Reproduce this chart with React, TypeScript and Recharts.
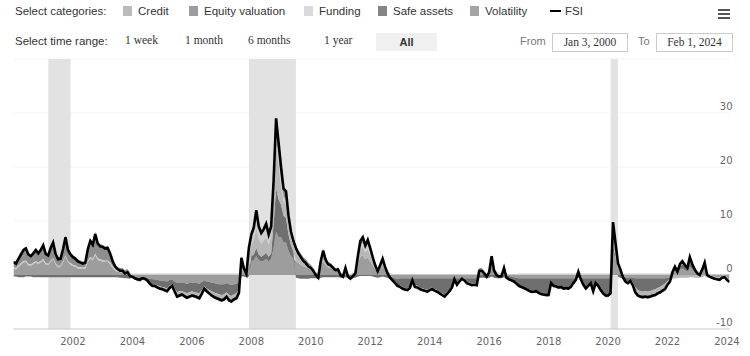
import React from "react";
import {
  ComposedChart,
  Area,
  Line,
  XAxis,
  YAxis,
  CartesianGrid,
  ReferenceArea,
} from "recharts";

// monthly readings, Jan 2000 .. Feb 2024
const fsi = [
  2.4, 2.1, 3.0, 3.8, 4.6, 4.9, 3.8, 3.5, 4.0, 4.6, 4.0, 4.6,
  5.5, 3.9, 3.6, 5.0, 6.0, 3.9, 2.9, 3.0, 4.8, 7.0, 4.6, 3.8,
  3.3, 3.0, 2.5, 2.3, 2.1, 2.3, 4.8, 6.3, 5.6, 7.6, 5.8, 5.3,
  5.2, 4.9, 5.0, 4.0, 2.6, 1.6, 1.1, 0.8, 0.8, 0.3, 0.5, -0.2,
  -0.3, -0.6, -0.8, -0.9, -0.6, -0.7, -1.0, -1.6, -2.0, -2.0, -2.3, -2.5,
  -2.6, -2.8, -3.0, -2.4, -2.0, -3.0, -4.0, -3.8, -3.6, -3.9, -4.2, -4.0,
  -3.8, -3.9, -4.1, -4.3, -3.5, -2.5, -3.0, -3.4, -3.8, -4.1, -4.3, -4.5,
  -4.7, -4.5, -4.0, -4.7, -4.9, -4.5, -4.3, -3.3, 3.2, 1.2, 0.2, 5.0,
  7.5, 8.8, 12.0, 9.0, 7.8, 8.5, 9.5, 7.5, 9.0, 17.5, 29.0, 24.5,
  20.0, 16.0, 15.5, 11.0, 8.0, 6.3, 5.0, 4.0, 3.3, 2.6, 2.2, 1.6,
  1.3, 0.8, 0.0, -0.5, 2.5, 4.5, 2.8, 2.0, 1.8, 1.3, 0.9, 1.0,
  0.0, -0.3, 1.3, -0.3, -0.7, -0.2, 0.3, 3.5, 6.3, 7.0, 5.5, 6.5,
  5.0, 3.3, 1.8, 0.7, 1.8, 3.0, 1.5, 0.3, -0.5, -1.0, -1.5, -2.0,
  -2.2, -2.5, -2.7, -2.8, -2.4, -1.0, -2.2, -2.3, -2.6, -2.8, -2.9, -3.1,
  -2.8, -2.6, -2.9, -3.1, -3.4, -3.7, -4.0, -3.5, -3.0, -2.3, -0.8, -1.8,
  -1.2, -0.7, -1.0, -1.5, -1.7, -1.9, -1.8, -1.9, 0.8, 0.8, 0.3, -0.3,
  0.5, 3.5, 0.8, 0.0, -0.3, -0.2, 1.3, -0.5, -0.8, -1.0, -1.2, -1.6,
  -2.0, -2.2, -2.4, -2.6, -2.9, -3.1, -3.1, -3.0, -3.3, -3.5, -3.6, -3.7,
  -3.7, -1.5, -2.0, -2.1, -2.3, -2.2, -2.5, -2.4, -2.5, -2.2, -1.5, -0.9,
  0.6, -0.8, -1.8, -2.5, -2.0, -1.5, -3.0, -1.5, -2.0, -2.8, -3.4, -3.8,
  -3.8, -3.4, 9.8, 6.0, 2.2, 1.0, -0.4, -1.2, -1.5, -1.1, -1.9, -3.2,
  -3.8, -4.0, -4.1, -4.0, -4.1, -4.0, -3.8, -3.7, -3.4, -3.2, -2.9, -2.6,
  -1.8, -1.2, 0.5, 1.5, 0.6, 2.0, 2.5, 1.8, 1.3, 3.3, 2.0, 1.0,
  0.3, 0.0, 1.0, 2.3, 0.0, -0.3, -0.5, -0.7, -0.8, -0.9, -0.5, -0.4,
  -0.9, -1.3,
];

const volatility = [
  1.2, 1.0, 1.5, 1.9, 2.3, 2.4, 1.8, 1.7, 2.0, 2.3, 2.0, 2.3,
  2.7, 1.9, 1.8, 2.4, 2.9, 1.9, 1.4, 1.5, 2.4, 3.4, 2.3, 1.9,
  1.6, 1.5, 1.2, 1.2, 1.1, 1.2, 2.4, 3.1, 2.7, 3.7, 2.8, 2.6,
  2.5, 2.4, 2.4, 2.0, 1.3, 0.8, 0.6, 0.5, 0.5, 0.3, 0.4, 0.1,
  -0.2, -0.3, -0.4, -0.4, -0.3, -0.4, -0.5, -0.7, -0.8, -0.8, -0.9, -1.0,
  -1.0, -1.1, -1.2, -0.9, -0.8, -1.2, -1.5, -1.4, -1.4, -1.5, -1.6, -1.5,
  -1.4, -1.5, -1.5, -1.6, -1.3, -1.0, -1.2, -1.3, -1.4, -1.5, -1.6, -1.7,
  -1.7, -1.7, -1.5, -1.7, -1.8, -1.7, -1.6, -1.2, 1.2, 0.4, 0.1, 1.8,
  2.5, 2.8, 3.5, 2.8, 2.5, 2.7, 3.0, 2.5, 3.0, 5.0, 8.0, 7.0,
  7.0, 6.0, 6.0, 4.5, 3.5, 3.0, 2.6, 2.2, 1.9, 1.6, 1.5, 1.2,
  1.0, 0.8, 0.4, 0.2, 1.6, 2.6, 1.8, 1.4, 1.3, 1.0, 0.8, 0.8,
  0.4, 0.2, 1.1, 0.2, 0.0, 0.3, 0.6, 2.2, 3.4, 3.7, 2.9, 3.3,
  2.6, 1.8, 1.1, 0.6, 1.2, 1.7, 1.0, 0.4, -0.2, -0.4, -0.6, -0.7,
  -0.6, -0.6, -0.6, -0.6, -0.6, -0.6, -0.6, -0.6, -0.6, -0.6, -0.6, -0.6,
  -0.6, -0.6, -0.6, -0.6, -0.6, -0.6, -0.6, -0.6, -0.6, -0.6, -0.5, -0.6,
  -0.6, -0.5, -0.6, -0.6, -0.6, -0.6, -0.6, -0.6, 0.6, 0.6, 0.3, 0.0,
  0.5, 2.0, 0.6, 0.2, 0.0, 0.1, 0.9, -0.1, -0.2, -0.3, -0.4, -0.5,
  -0.6, -0.6, -0.6, -0.6, -0.6, -0.6, -0.6, -0.6, -0.6, -0.6, -0.6, -0.6,
  -0.6, -0.6, -0.6, -0.6, -0.6, -0.6, -0.6, -0.6, -0.6, -0.6, -0.6, -0.6,
  0.5, -0.5, -0.6, -0.6, -0.6, -0.6, -0.6, -0.6, -0.6, -0.6, -0.6, -0.6,
  -0.6, -0.6, 4.5, 2.8, 1.2, 0.7, -0.1, -0.4, -0.5, -0.4, -0.5, -0.6,
  -0.6, -0.6, -0.6, -0.6, -0.6, -0.6, -0.6, -0.6, -0.6, -0.6, -0.6, -0.6,
  -0.5, -0.4, 0.4, 0.8, 0.4, 1.0, 1.2, 0.9, 0.7, 1.5, 1.0, 0.6,
  0.3, 0.2, 0.6, 1.0, 0.2, -0.1, -0.2, -0.2, -0.3, -0.3, -0.2, -0.1,
  -0.3, -0.4,
];

const safeAssets = [
  -0.3, -0.3, -0.4, -0.4, -0.4, -0.3, -0.3, -0.3, -0.4, -0.4, -0.4, -0.4,
  -0.4, -0.4, -0.4, -0.4, -0.4, -0.4, -0.4, -0.4, -0.4, -0.4, -0.4, -0.4,
  -0.4, -0.4, -0.4, -0.4, -0.4, -0.4, -0.4, -0.4, -0.4, -0.4, -0.4, -0.4,
  -0.4, -0.4, -0.4, -0.4, -0.4, -0.4, -0.4, -0.5, -0.5, -0.6, -0.6, -0.7,
  -0.2, -0.4, -0.4, -0.5, -0.4, -0.4, -0.5, -0.8, -0.9, -0.9, -1.0, -1.1,
  -1.2, -1.2, -1.3, -1.1, -0.9, -1.3, -1.7, -1.6, -1.6, -1.7, -1.8, -1.7,
  -1.6, -1.7, -1.8, -1.8, -1.5, -1.1, -1.3, -1.5, -1.6, -1.8, -1.8, -1.9,
  -2.0, -1.9, -1.7, -2.0, -2.1, -1.9, -1.8, -1.4, -0.3, -0.3, -0.4, -0.3,
  1.0, 1.0, 1.5, 1.0, 0.9, 1.0, 1.1, 0.9, 1.0, 4.5, 8.0, 7.0,
  6.0, 5.0, 4.5, 3.0, 2.0, 1.3, -0.5, -0.6, -0.7, -0.7, -0.7, -0.7,
  -0.6, -0.6, -0.6, -0.8, -0.5, -0.4, -0.4, -0.4, -0.4, -0.4, -0.4, -0.4,
  -0.5, -0.5, -0.4, -0.5, -0.6, -0.5, -0.5, -0.3, -0.2, -0.2, -0.2, -0.2,
  -0.2, -0.3, -0.4, -0.5, -0.4, -0.3, -0.4, -0.5, -0.6, -0.8, -1.0, -1.3,
  -1.3, -1.6, -1.8, -1.9, -1.5, -0.1, -1.3, -1.4, -1.7, -1.9, -2.0, -2.2,
  -1.9, -1.7, -2.0, -2.2, -2.5, -2.8, -3.1, -2.6, -2.1, -1.4, -0.2, -0.9,
  -0.3, -0.1, -0.1, -0.6, -0.8, -1.0, -0.9, -1.0, -0.5, -0.5, -0.5, -0.6,
  -0.5, -0.3, -0.5, -0.6, -0.6, -0.6, -0.4, -0.6, -0.7, -0.8, -0.8, -1.0,
  -1.2, -1.4, -1.6, -1.8, -2.1, -2.3, -2.3, -2.2, -2.5, -2.7, -2.8, -2.9,
  -2.9, -0.7, -1.2, -1.3, -1.5, -1.4, -1.7, -1.6, -1.7, -1.4, -0.7, -0.1,
  -0.5, -0.3, -1.0, -1.7, -1.2, -0.7, -2.2, -0.7, -1.2, -2.0, -2.6, -3.0,
  -3.0, -2.6, 1.0, 0.5, -0.3, -0.5, -0.6, -0.6, -0.7, -0.5, -0.9, -1.7,
  -2.2, -2.4, -2.5, -2.4, -2.5, -2.4, -2.2, -2.1, -1.8, -1.6, -1.3, -1.0,
  -0.6, -0.3, 0.3, 0.5, 0.3, 0.6, 0.8, 0.6, 0.5, 1.0, 0.6, 0.4,
  0.2, 0.1, 0.3, 0.5, 0.1, 0.0, 0.0, -0.1, -0.1, -0.1, 0.0, 0.0,
  -0.1, -0.2,
];

const funding = [
  0.1, 0.1, 0.1, 0.1, 0.1, 0.1, 0.1, 0.1, 0.1, 0.1, 0.1, 0.1,
  0.1, 0.1, 0.1, 0.1, 0.1, 0.1, 0.1, 0.1, 0.1, 0.1, 0.1, 0.1,
  0.1, 0.1, 0.1, 0.1, 0.1, 0.1, 0.1, 0.1, 0.1, 0.1, 0.1, 0.1,
  0.1, 0.1, 0.1, 0.1, 0.1, 0.1, 0.1, 0.1, 0.1, 0.1, 0.1, 0.1,
  0.3, 0.3, 0.3, 0.3, 0.3, 0.3, 0.3, 0.3, 0.3, 0.3, 0.3, 0.3,
  0.3, 0.3, 0.3, 0.3, 0.3, 0.3, 0.3, 0.3, 0.3, 0.3, 0.3, 0.3,
  0.3, 0.3, 0.3, 0.3, 0.3, 0.3, 0.3, 0.3, 0.3, 0.3, 0.3, 0.3,
  0.3, 0.3, 0.3, 0.3, 0.3, 0.3, 0.3, 0.3, 0.6, 0.6, 0.4, 0.6,
  1.5, 1.7, 2.5, 1.8, 1.5, 1.6, 1.8, 1.4, 1.5, 1.5, 2.0, 1.5,
  1.5, 1.0, 1.0, 0.7, 0.5, 0.4, 0.4, 0.3, 0.3, 0.3, 0.2, 0.2,
  0.2, 0.2, 0.1, 0.1, 0.3, 0.4, 0.3, 0.2, 0.2, 0.2, 0.2, 0.2,
  0.1, 0.1, 0.2, 0.1, 0.1, 0.1, 0.1, 0.3, 0.6, 0.7, 0.6, 0.8,
  0.7, 0.5, 0.4, 0.3, 0.3, 0.4, 0.3, 0.2, 0.2, 0.2, 0.2, 0.2,
  0.2, 0.2, 0.2, 0.2, 0.2, 0.2, 0.2, 0.2, 0.2, 0.2, 0.2, 0.2,
  0.2, 0.2, 0.2, 0.2, 0.2, 0.2, 0.2, 0.2, 0.2, 0.2, 0.2, 0.2,
  0.2, 0.2, 0.2, 0.2, 0.2, 0.2, 0.2, 0.2, 0.3, 0.3, 0.3, 0.3,
  0.3, 0.4, 0.3, 0.3, 0.3, 0.3, 0.3, 0.2, 0.2, 0.2, 0.2, 0.2,
  0.3, 0.3, 0.3, 0.3, 0.3, 0.3, 0.3, 0.3, 0.3, 0.3, 0.3, 0.3,
  0.3, 0.3, 0.3, 0.3, 0.3, 0.3, 0.3, 0.3, 0.3, 0.3, 0.3, 0.3,
  0.4, 0.3, 0.3, 0.3, 0.3, 0.3, 0.3, 0.3, 0.3, 0.3, 0.3, 0.3,
  0.3, 0.3, 1.0, 0.7, 0.4, 0.3, 0.3, 0.3, 0.3, 0.3, 0.3, 0.3,
  0.3, 0.3, 0.3, 0.3, 0.3, 0.3, 0.3, 0.3, 0.3, 0.3, 0.3, 0.3,
  0.3, 0.3, 0.3, 0.3, 0.3, 0.3, 0.3, 0.3, 0.3, 0.4, 0.3, 0.2,
  0.2, 0.2, 0.4, 0.6, 0.2, 0.2, 0.2, 0.2, 0.2, 0.2, 0.2, 0.2,
  0.2, 0.2,
];

const equity = [
  1.2, 1.1, 1.6, 2.0, 2.4, 2.5, 2.0, 1.8, 2.1, 2.4, 2.1, 2.4,
  2.9, 2.1, 1.9, 2.7, 3.2, 2.1, 1.6, 1.6, 2.5, 3.7, 2.4, 2.0,
  1.8, 1.6, 1.4, 1.2, 1.1, 1.2, 2.5, 3.3, 3.0, 4.0, 3.1, 2.8,
  2.8, 2.6, 2.7, 2.1, 1.4, 0.9, 0.7, 0.6, 0.6, 0.4, 0.5, 0.2,
  -0.1, -0.1, -0.2, -0.2, -0.1, -0.1, -0.2, -0.3, -0.4, -0.4, -0.4, -0.4,
  -0.4, -0.5, -0.5, -0.4, -0.3, -0.5, -0.6, -0.6, -0.6, -0.6, -0.7, -0.6,
  -0.6, -0.6, -0.7, -0.7, -0.6, -0.4, -0.5, -0.6, -0.6, -0.7, -0.7, -0.7,
  -0.8, -0.7, -0.7, -0.8, -0.8, -0.7, -0.7, -0.6, 0.6, 0.2, 0.0, 0.9,
  0.5, 0.6, 0.8, 0.6, 0.5, 0.6, 0.7, 0.5, 0.5, 1.5, 3.0, 2.5,
  2.0, 1.5, 1.5, 1.0, 0.7, 0.5, 0.9, 0.8, 0.7, 0.5, 0.4, 0.3,
  0.3, 0.2, 0.0, -0.1, 0.5, 0.9, 0.5, 0.4, 0.3, 0.2, 0.1, 0.2,
  0.0, -0.1, 0.2, -0.1, -0.1, -0.1, 0.0, 0.6, 1.1, 1.2, 0.9, 1.1,
  0.8, 0.6, 0.3, 0.1, 0.3, 0.5, 0.3, 0.1, 0.1, 0.0, -0.1, -0.1,
  -0.3, -0.3, -0.3, -0.3, -0.3, -0.3, -0.3, -0.3, -0.3, -0.3, -0.3, -0.3,
  -0.3, -0.3, -0.3, -0.3, -0.3, -0.3, -0.3, -0.3, -0.3, -0.3, -0.2, -0.3,
  -0.3, -0.2, -0.3, -0.3, -0.3, -0.3, -0.3, -0.3, 0.3, 0.3, 0.1, 0.0,
  0.1, 0.7, 0.2, 0.1, 0.0, 0.0, 0.3, 0.0, -0.1, -0.1, -0.1, -0.2,
  -0.3, -0.3, -0.3, -0.3, -0.3, -0.3, -0.3, -0.3, -0.3, -0.3, -0.3, -0.3,
  -0.3, -0.3, -0.3, -0.3, -0.3, -0.3, -0.3, -0.3, -0.3, -0.3, -0.3, -0.3,
  0.1, -0.2, -0.3, -0.3, -0.3, -0.3, -0.3, -0.3, -0.3, -0.3, -0.3, -0.3,
  -0.3, -0.3, 1.5, 0.9, 0.4, 0.2, 0.0, -0.1, -0.1, -0.1, -0.2, -0.3,
  -0.3, -0.3, -0.3, -0.3, -0.3, -0.3, -0.3, -0.3, -0.3, -0.3, -0.3, -0.3,
  -0.3, -0.2, 0.2, 0.5, 0.2, 0.6, 0.7, 0.5, 0.3, 0.8, 0.5, 0.3,
  0.1, 0.0, 0.1, 0.4, 0.0, 0.0, -0.1, -0.1, -0.1, -0.2, -0.1, -0.1,
  -0.2, -0.3,
];

const credit = [
  0.2, 0.2, 0.2, 0.2, 0.2, 0.2, 0.2, 0.2, 0.2, 0.2, 0.2, 0.2,
  0.2, 0.2, 0.2, 0.2, 0.2, 0.2, 0.2, 0.2, 0.2, 0.2, 0.2, 0.2,
  0.2, 0.2, 0.2, 0.2, 0.2, 0.2, 0.2, 0.2, 0.2, 0.2, 0.2, 0.2,
  0.2, 0.2, 0.2, 0.2, 0.2, 0.2, 0.1, 0.1, 0.1, 0.1, 0.1, 0.1,
  -0.1, -0.1, -0.1, -0.1, -0.1, -0.1, -0.1, -0.1, -0.2, -0.2, -0.3, -0.3,
  -0.3, -0.3, -0.3, -0.3, -0.3, -0.3, -0.5, -0.5, -0.3, -0.4, -0.4, -0.5,
  -0.5, -0.4, -0.4, -0.5, -0.4, -0.3, -0.3, -0.3, -0.5, -0.4, -0.5, -0.5,
  -0.5, -0.5, -0.4, -0.5, -0.5, -0.5, -0.5, -0.4, 1.1, 0.3, 0.1, 2.0,
  2.0, 2.7, 3.7, 2.8, 2.4, 2.6, 2.9, 2.2, 3.0, 5.0, 8.0, 6.5,
  3.5, 2.5, 2.5, 1.8, 1.3, 1.1, 1.6, 1.3, 1.1, 0.9, 0.8, 0.6,
  0.4, 0.2, 0.1, 0.1, 0.6, 1.0, 0.6, 0.4, 0.4, 0.3, 0.2, 0.2,
  0.0, 0.0, 0.2, 0.0, -0.1, 0.0, 0.1, 0.7, 1.4, 1.6, 1.3, 1.5,
  1.1, 0.7, 0.4, 0.2, 0.4, 0.7, 0.3, 0.1, 0.0, 0.0, 0.0, -0.1,
  -0.2, -0.2, -0.2, -0.2, -0.2, -0.2, -0.2, -0.2, -0.2, -0.2, -0.2, -0.2,
  -0.2, -0.2, -0.2, -0.2, -0.2, -0.2, -0.2, -0.2, -0.2, -0.2, -0.1, -0.2,
  -0.2, -0.1, -0.2, -0.2, -0.2, -0.2, -0.2, -0.2, 0.1, 0.1, 0.1, 0.0,
  0.1, 0.7, 0.2, 0.0, 0.0, 0.0, 0.2, 0.0, 0.0, 0.0, -0.1, -0.1,
  -0.2, -0.2, -0.2, -0.2, -0.2, -0.2, -0.2, -0.2, -0.2, -0.2, -0.2, -0.2,
  -0.2, -0.2, -0.2, -0.2, -0.2, -0.2, -0.2, -0.2, -0.2, -0.2, -0.2, -0.2,
  0.1, -0.1, -0.2, -0.2, -0.2, -0.2, -0.2, -0.2, -0.2, -0.2, -0.2, -0.2,
  -0.2, -0.2, 1.8, 1.1, 0.5, 0.3, 0.0, -0.4, -0.5, -0.4, -0.6, -0.9,
  -1.0, -1.0, -1.0, -1.0, -1.0, -1.0, -1.0, -1.0, -1.0, -1.0, -1.0, -1.0,
  -0.7, -0.6, -0.7, -0.6, -0.6, -0.5, -0.5, -0.5, -0.5, -0.4, -0.4, -0.5,
  -0.5, -0.5, -0.4, -0.2, -0.5, -0.4, -0.4, -0.5, -0.5, -0.5, -0.4, -0.4,
  -0.5, -0.6,
];

const xTicks = [2002, 2004, 2006, 2008, 2010, 2012, 2014, 2016, 2018, 2020, 2022, 2024];
const yTicks = [-10, 0, 10, 20, 30];
const recessions = [
  [2001.17, 2001.92],
  [2007.92, 2009.5],
  [2020.09, 2020.33],
];

// legend swatch colour and area fill colour (grayscale)
const categories = [
  { key: "credit", name: "Credit", swatch: "#bbbbbb", fill: "#b7b7b7" },
  { key: "equity", name: "Equity valuation", swatch: "#9c9c9c", fill: "#8e8e8e" },
  { key: "funding", name: "Funding", swatch: "#dadada", fill: "#cdcdcd" },
  { key: "safeAssets", name: "Safe assets", swatch: "#858585", fill: "#6f6f6f" },
  { key: "volatility", name: "Volatility", swatch: "#a4a4a4", fill: "#9d9d9d" },
];

const ranges = ["1 week", "1 month", "6 months", "1 year", "All"];

const data = fsi.map((v, i) => ({
  t: 2000 + i / 12,
  fsi: v,
  volatility: volatility[i],
  safeAssets: safeAssets[i],
  funding: funding[i],
  equity: equity[i],
  credit: credit[i],
}));

// stack order, nearest zero first
const stackOrder = ["volatility", "safeAssets", "credit", "funding", "equity"];

const sans = "'Liberation Sans', Arial, sans-serif";
const serif = "'Liberation Serif', 'Times New Roman', serif";

function YTick(props: any) {
  const { x, y, payload } = props;
  return (
    <text x={x + 3} y={y - 3} textAnchor="end" fontSize={10} fill="#666" fontFamily="DejaVu Sans">
      {payload.value}
    </text>
  );
}

export default function App() {
  const legendX = [123, 189, 304, 378, 470];
  const rangeX = [125, 185, 248, 324, 376];
  return (
    <div style={{ position: "relative", width: 750, height: 356, background: "#fff", fontFamily: sans }}>
      <style>{"body{margin:0}"}</style>

      {/* row 1: categories */}
      <div style={{ position: "absolute", left: 15, top: 5, fontSize: 11.5, color: "#333" }}>Select categories:</div>
      {categories.map((c, i) => (
        <div key={c.key} style={{ position: "absolute", left: legendX[i], top: 5, fontSize: 11.5, color: "#333", display: "flex", alignItems: "center" }}>
          <span style={{ display: "inline-block", width: 9, height: 10, background: c.swatch, marginRight: 6 }} />
          {c.name}
        </div>
      ))}
      <div style={{ position: "absolute", left: 550, top: 5, fontSize: 11.5, color: "#333", display: "flex", alignItems: "center" }}>
        <span style={{ display: "inline-block", width: 11, height: 2, background: "#000", marginRight: 4 }} />
        FSI
      </div>
      <div style={{ position: "absolute", left: 718, top: 9 }}>
        {[0, 1, 2].map((k) => (
          <div key={k} style={{ width: 12, height: 2, background: "#555", marginBottom: 2 }} />
        ))}
      </div>

      {/* row 2: time range */}
      <div style={{ position: "absolute", left: 15, top: 35, fontSize: 11.5, color: "#333" }}>Select time range:</div>
      {ranges.map((r, i) =>
        r === "All" ? (
          <div key={r} style={{ position: "absolute", left: rangeX[i], top: 33, width: 61, height: 18, background: "#f0f0f0", fontSize: 11, fontWeight: "bold", color: "#333", textAlign: "center", lineHeight: "18px" }}>
            {r}
          </div>
        ) : (
          <div key={r} style={{ position: "absolute", left: rangeX[i], top: 34, fontSize: 11.5, fontFamily: serif, color: "#333" }}>
            {r}
          </div>
        )
      )}
      <div style={{ position: "absolute", left: 520, top: 35, fontSize: 11, color: "#777" }}>From</div>
      <div style={{ position: "absolute", left: 552, top: 33, width: 74, height: 17, border: "1px solid #ccc", fontSize: 11.5, fontFamily: serif, color: "#333", textAlign: "center", lineHeight: "17px" }}>
        Jan 3, 2000
      </div>
      <div style={{ position: "absolute", left: 638, top: 35, fontSize: 11, color: "#777" }}>To</div>
      <div style={{ position: "absolute", left: 656, top: 33, width: 75, height: 17, border: "1px solid #ccc", fontSize: 11.5, fontFamily: serif, color: "#333", textAlign: "center", lineHeight: "17px" }}>
        Feb 1, 2024
      </div>

      <div style={{ position: "absolute", left: 0, top: 0 }}>
        <ComposedChart
          width={750}
          height={356}
          data={data}
          stackOffset="sign"
          margin={{ top: 59, right: 0.5, bottom: 7, left: 13.5 }}
        >
          {recessions.map(([a, b], i) => (
            <ReferenceArea key={i} x1={a} x2={b} yAxisId="r" fill="#e2e2e2" fillOpacity={1} stroke="none" ifOverflow="hidden" />
          ))}
          <CartesianGrid yAxisId="r" vertical={false} stroke="#f4f4f4" />
          <XAxis
            dataKey="t"
            type="number"
            domain={[2000, 2024.085]}
            ticks={xTicks}
            allowDataOverflow
            tickFormatter={(v) => String(v)}
            tick={{ fontSize: 10, fill: "#666", fontFamily: "DejaVu Sans" }}
            axisLine={{ stroke: "#ccc" }}
            tickLine={false}
            tickSize={0}
            tickMargin={9}
            height={20}
          />
          <YAxis
            yAxisId="r"
            orientation="right"
            domain={[-10, 40]}
            ticks={yTicks}
            allowDataOverflow
            width={20}
            axisLine={false}
            tickLine={false}
            tickSize={0}
            tickMargin={0}
            tick={(p: any) => <YTick {...p} />}
          />
          {stackOrder.map((k) => {
            const c = categories.find((x) => x.key === k)!;
            return (
              <Area
                key={k}
                yAxisId="r"
                type="linear"
                dataKey={k}
                name={c.name}
                stackId="fsi"
                fill={c.fill}
                fillOpacity={1}
                stroke="none"
                isAnimationActive={false}
              />
            );
          })}
          <Line
            yAxisId="r"
            type="linear"
            dataKey="fsi"
            name="FSI"
            stroke="#000"
            strokeWidth={2.6}
            dot={false}
            isAnimationActive={false}
          />
        </ComposedChart>
      </div>
    </div>
  );
}
